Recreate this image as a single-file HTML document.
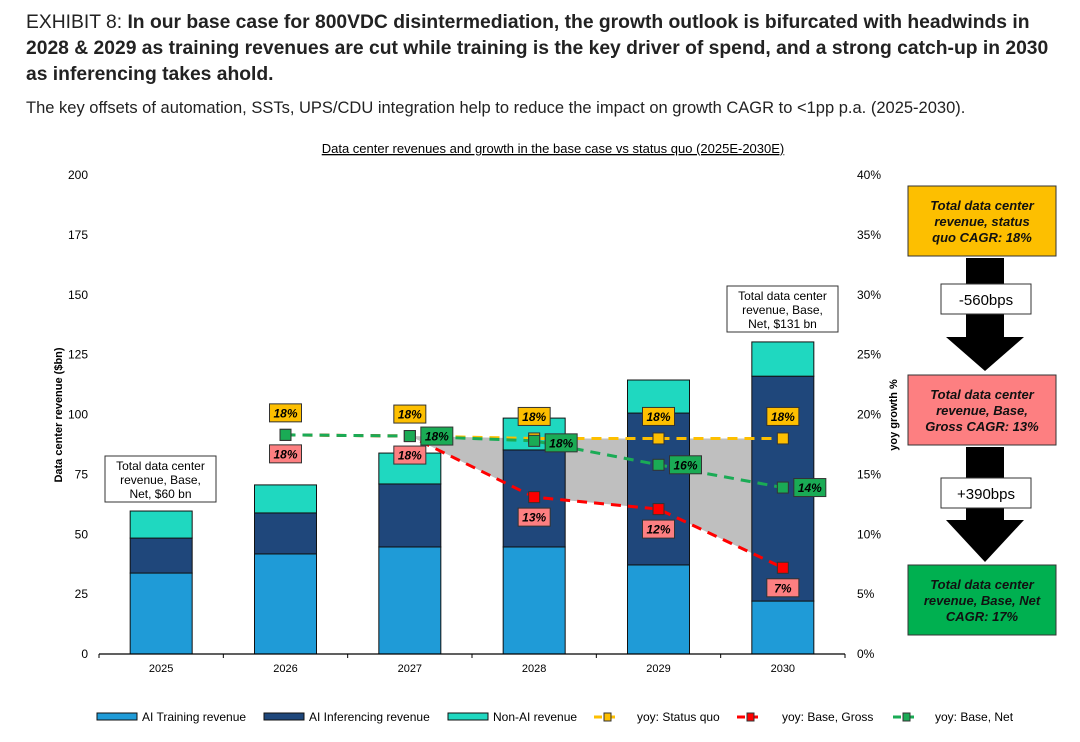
<!DOCTYPE html>
<html><head><meta charset="utf-8"><style>
body{margin:0;background:#fff;width:1080px;height:737px;overflow:hidden;font-family:"Liberation Sans",sans-serif}
</style></head><body>
<svg width="1080" height="737" xmlns="http://www.w3.org/2000/svg" font-family="Liberation Sans, sans-serif">
<text x="26" y="28" font-size="19.3" fill="#222"><tspan>EXHIBIT 8: </tspan><tspan font-weight="bold">In our base case for 800VDC disintermediation, the growth outlook is bifurcated with headwinds in</tspan></text>
<text x="26" y="54" font-size="19.3" font-weight="bold" fill="#222">2028 &amp; 2029 as training revenues are cut while training is the key driver of spend, and a strong catch-up in 2030</text>
<text x="26" y="80" font-size="19.3" font-weight="bold" fill="#222">as inferencing takes ahold.</text>
<text x="26" y="113" font-size="16.5" fill="#222">The key offsets of automation, SSTs, UPS/CDU integration help to reduce the impact on growth CAGR to &lt;1pp p.a. (2025-2030).</text>
<text x="553" y="153" font-size="13" text-anchor="middle" text-decoration="underline" fill="#000">Data center revenues and growth in the base case vs status quo (2025E-2030E)</text>
<g id="chart"></g>
<g>
<rect x="908" y="186" width="148" height="70" fill="#fdbf00" stroke="#333"/>
<text font-size="13" font-weight="bold" font-style="italic" text-anchor="middle" fill="#111"><tspan x="982" y="210">Total data center</tspan><tspan x="982" y="226">revenue, status</tspan><tspan x="982" y="242">quo CAGR: 18%</tspan></text>
<polygon points="966,258 1004,258 1004,337 1024,337 985,371 946,337 966,337" fill="#000"/>
<rect x="941" y="284" width="90" height="30" fill="#fff" stroke="#333"/>
<text x="986" y="305" font-size="15" text-anchor="middle">-560bps</text>
<rect x="908" y="375" width="148" height="70" fill="#fd7f81" stroke="#333"/>
<text font-size="13" font-weight="bold" font-style="italic" text-anchor="middle" fill="#111"><tspan x="982" y="399">Total data center</tspan><tspan x="982" y="415">revenue, Base,</tspan><tspan x="982" y="431">Gross CAGR: 13%</tspan></text>
<polygon points="966,447 1004,447 1004,520 1024,520 985,562 946,520 966,520" fill="#000"/>
<rect x="941" y="478" width="90" height="30" fill="#fff" stroke="#333"/>
<text x="986" y="499" font-size="15" text-anchor="middle">+390bps</text>
<rect x="908" y="565" width="148" height="70" fill="#00b050" stroke="#333"/>
<text font-size="13" font-weight="bold" font-style="italic" text-anchor="middle" fill="#111"><tspan x="982" y="589">Total data center</tspan><tspan x="982" y="605">revenue, Base, Net</tspan><tspan x="982" y="621">CAGR: 17%</tspan></text>
</g>
</svg>
<script>
const years=['2025','2026','2027','2028','2029','2030'];
const training=[33.8,41.8,44.7,44.7,37.2,22.1];
const inferencing=[14.6,17.1,26.3,40.5,63.4,93.9];
const nonAI=[11.3,11.7,12.9,13.3,13.8,14.3];
const yoyStatus=[null,18.3,18.2,18.0,18.0,18.0];
const yoyGross=[null,18.3,18.2,13.1,12.1,7.2];
const yoyNet=[null,18.3,18.2,17.8,15.8,13.9];
const statusLbl=['','18%','18%','18%','18%','18%'];
const grossLbl=['','18%','18%','13%','12%','7%'];
const netLbl=['','','18%','18%','16%','14%'];
const leftTicks=[0,25,50,75,100,125,150,175,200];
const rightTicks=[0,5,10,15,20,25,30,35,40];

const NS='http://www.w3.org/2000/svg';
const g=document.getElementById('chart');


const X0=99,X1=845,Y0=654,Y1=175;
const xs=i=>X0+(X1-X0)*(i+0.5)/years.length;
const yl=v=>Y0-(Y0-Y1)*v/200;
const yr=v=>Y0-(Y0-Y1)*v/40;
function el(t,a,p){const e=document.createElementNS(NS,t);for(const k in a)e.setAttribute(k,a[k]);(p||g).appendChild(e);return e;}
function txt(x,y,s,a){const e=el('text',Object.assign({x:x,y:y,'font-size':12,fill:'#000'},a||{}));e.textContent=s;return e;}

leftTicks.forEach(v=>{const t=txt(88,yl(v)+4,String(v),{'text-anchor':'end'});

});
rightTicks.forEach(v=>{const t=txt(857,yr(v)+4,v+'%');

});
let t=txt(0,0,'Data center revenue ($bn)',{'font-weight':'bold','font-size':11,'text-anchor':'middle',transform:'translate(62,415) rotate(-90)'});


t=txt(0,0,'yoy growth %',{'font-weight':'bold','font-size':11,'text-anchor':'middle',transform:'translate(897,415) rotate(-90)'});



let pts=[];for(let i=2;i<6;i++)pts.push(xs(i)+','+yr(yoyStatus[i]));
for(let i=5;i>=2;i--)pts.push(xs(i)+','+yr(yoyGross[i]));
const poly=el('polygon',{points:pts.join(' '),fill:'#bfbfbf'});



const bw=62;
years.forEach((y,i)=>{
 const segs=[[training[i],'#1f9bd7','training'],[inferencing[i],'#1f477b','inferencing'],[nonAI[i],'#1fd8c0','non-ai']];
 let base=0;
 segs.forEach(s=>{const r=el('rect',{x:xs(i)-bw/2,y:yl(base+s[0]),width:bw,height:yl(base)-yl(base+s[0]),fill:s[1],stroke:'#111','stroke-width':1});
 
 
 base+=s[0];});
 const tl=txt(xs(i),672,y,{'text-anchor':'middle','font-size':11});
 
 
 el('line',{x1:X0+(X1-X0)*i/6,x2:X0+(X1-X0)*i/6,y1:Y0,y2:Y0+4,stroke:'#000'});
});
el('line',{x1:X1,x2:X1,y1:Y0,y2:Y0+4,stroke:'#000'});
const ax=el('line',{x1:X0,x2:X1,y1:Y0,y2:Y0,stroke:'#000','stroke-width':1.3});



function series(vals,color,name){
 let d='';vals.forEach((v,i)=>{if(v==null)return;d+=(d?'L':'M')+xs(i)+','+yr(v);});
 const p=el('path',{d:d,fill:'none',stroke:color,'stroke-width':3,'stroke-dasharray':'10,7'});
 
 
}
function markers(vals,color,name){vals.forEach((v,i)=>{if(v==null)return;
 const m=el('rect',{x:xs(i)-5.5,y:yr(v)-5.5,width:11,height:11,fill:color,stroke:'#333','stroke-width':1});
 
 });}
series(yoyStatus,'#fdbf00','status-quo');
series(yoyGross,'#f00','gross');
series(yoyNet,'#1aab55','net');
markers(yoyStatus,'#fdbf00','status-quo');
markers(yoyGross,'#f00','gross');
markers(yoyNet,'#1aab55','net');

function lbl(cx,cy,s,fill,name){const w=32,h=18;
 const r=el('rect',{x:cx-w/2,y:cy-h/2,width:w,height:h,fill:fill,stroke:'#333'});
 
 
 txt(cx,cy+4.5,s,{'text-anchor':'middle','font-weight':'bold','font-style':'italic','font-size':12});}
years.forEach((y,i)=>{
 if(statusLbl[i])lbl(xs(i),yr(yoyStatus[i])-22,statusLbl[i],'#fdbf00','label-status-'+y);
 if(grossLbl[i])lbl(xs(i),yr(yoyGross[i])+(i<3?19:20),grossLbl[i],'#fd7f81','label-gross-'+y);
 if(netLbl[i])lbl(xs(i)+27,yr(yoyNet[i])+(i==3?2:0),netLbl[i],'#1aab55','label-net-'+y);
});

function callout(x,y,w,lines,name){const r=el('rect',{x:x,y:y,width:w,height:46,fill:'#fff',stroke:'#333'});
 
 
 lines.forEach((l,k)=>txt(x+w/2,y+14+k*14,l,{'text-anchor':'middle','font-size':12}));}
callout(105,456,111,['Total data center','revenue, Base,','Net, $60 bn'],'callout-2025');
callout(727,286,111,['Total data center','revenue, Base,','Net, $131 bn'],'callout-2030');

const lg=el('g',{});


[[97,'#1f9bd7','AI Training revenue'],[264,'#1f477b','AI Inferencing revenue'],[448,'#1fd8c0','Non-AI revenue']].forEach(a=>{
 const r=el('rect',{x:a[0],y:713,width:40,height:7,fill:a[1],stroke:'#111'},lg);
 
 
 txt(a[0]+45,721,a[2],{'font-size':12},);});
[[594,'#fdbf00','yoy: Status quo',637],[737,'#f00','yoy: Base, Gross',782],[893,'#1aab55','yoy: Base, Net',935]].forEach(a=>{
 el('line',{x1:a[0],x2:a[0]+26,y1:717,y2:717,stroke:a[1],'stroke-width':3,'stroke-dasharray':'8,5'},lg);
 el('rect',{x:a[0]+10,y:713,width:7,height:8,fill:a[1],stroke:'#333'},lg);
 txt(a[3],721,a[2],{'font-size':12});});
</script>
</body></html>
